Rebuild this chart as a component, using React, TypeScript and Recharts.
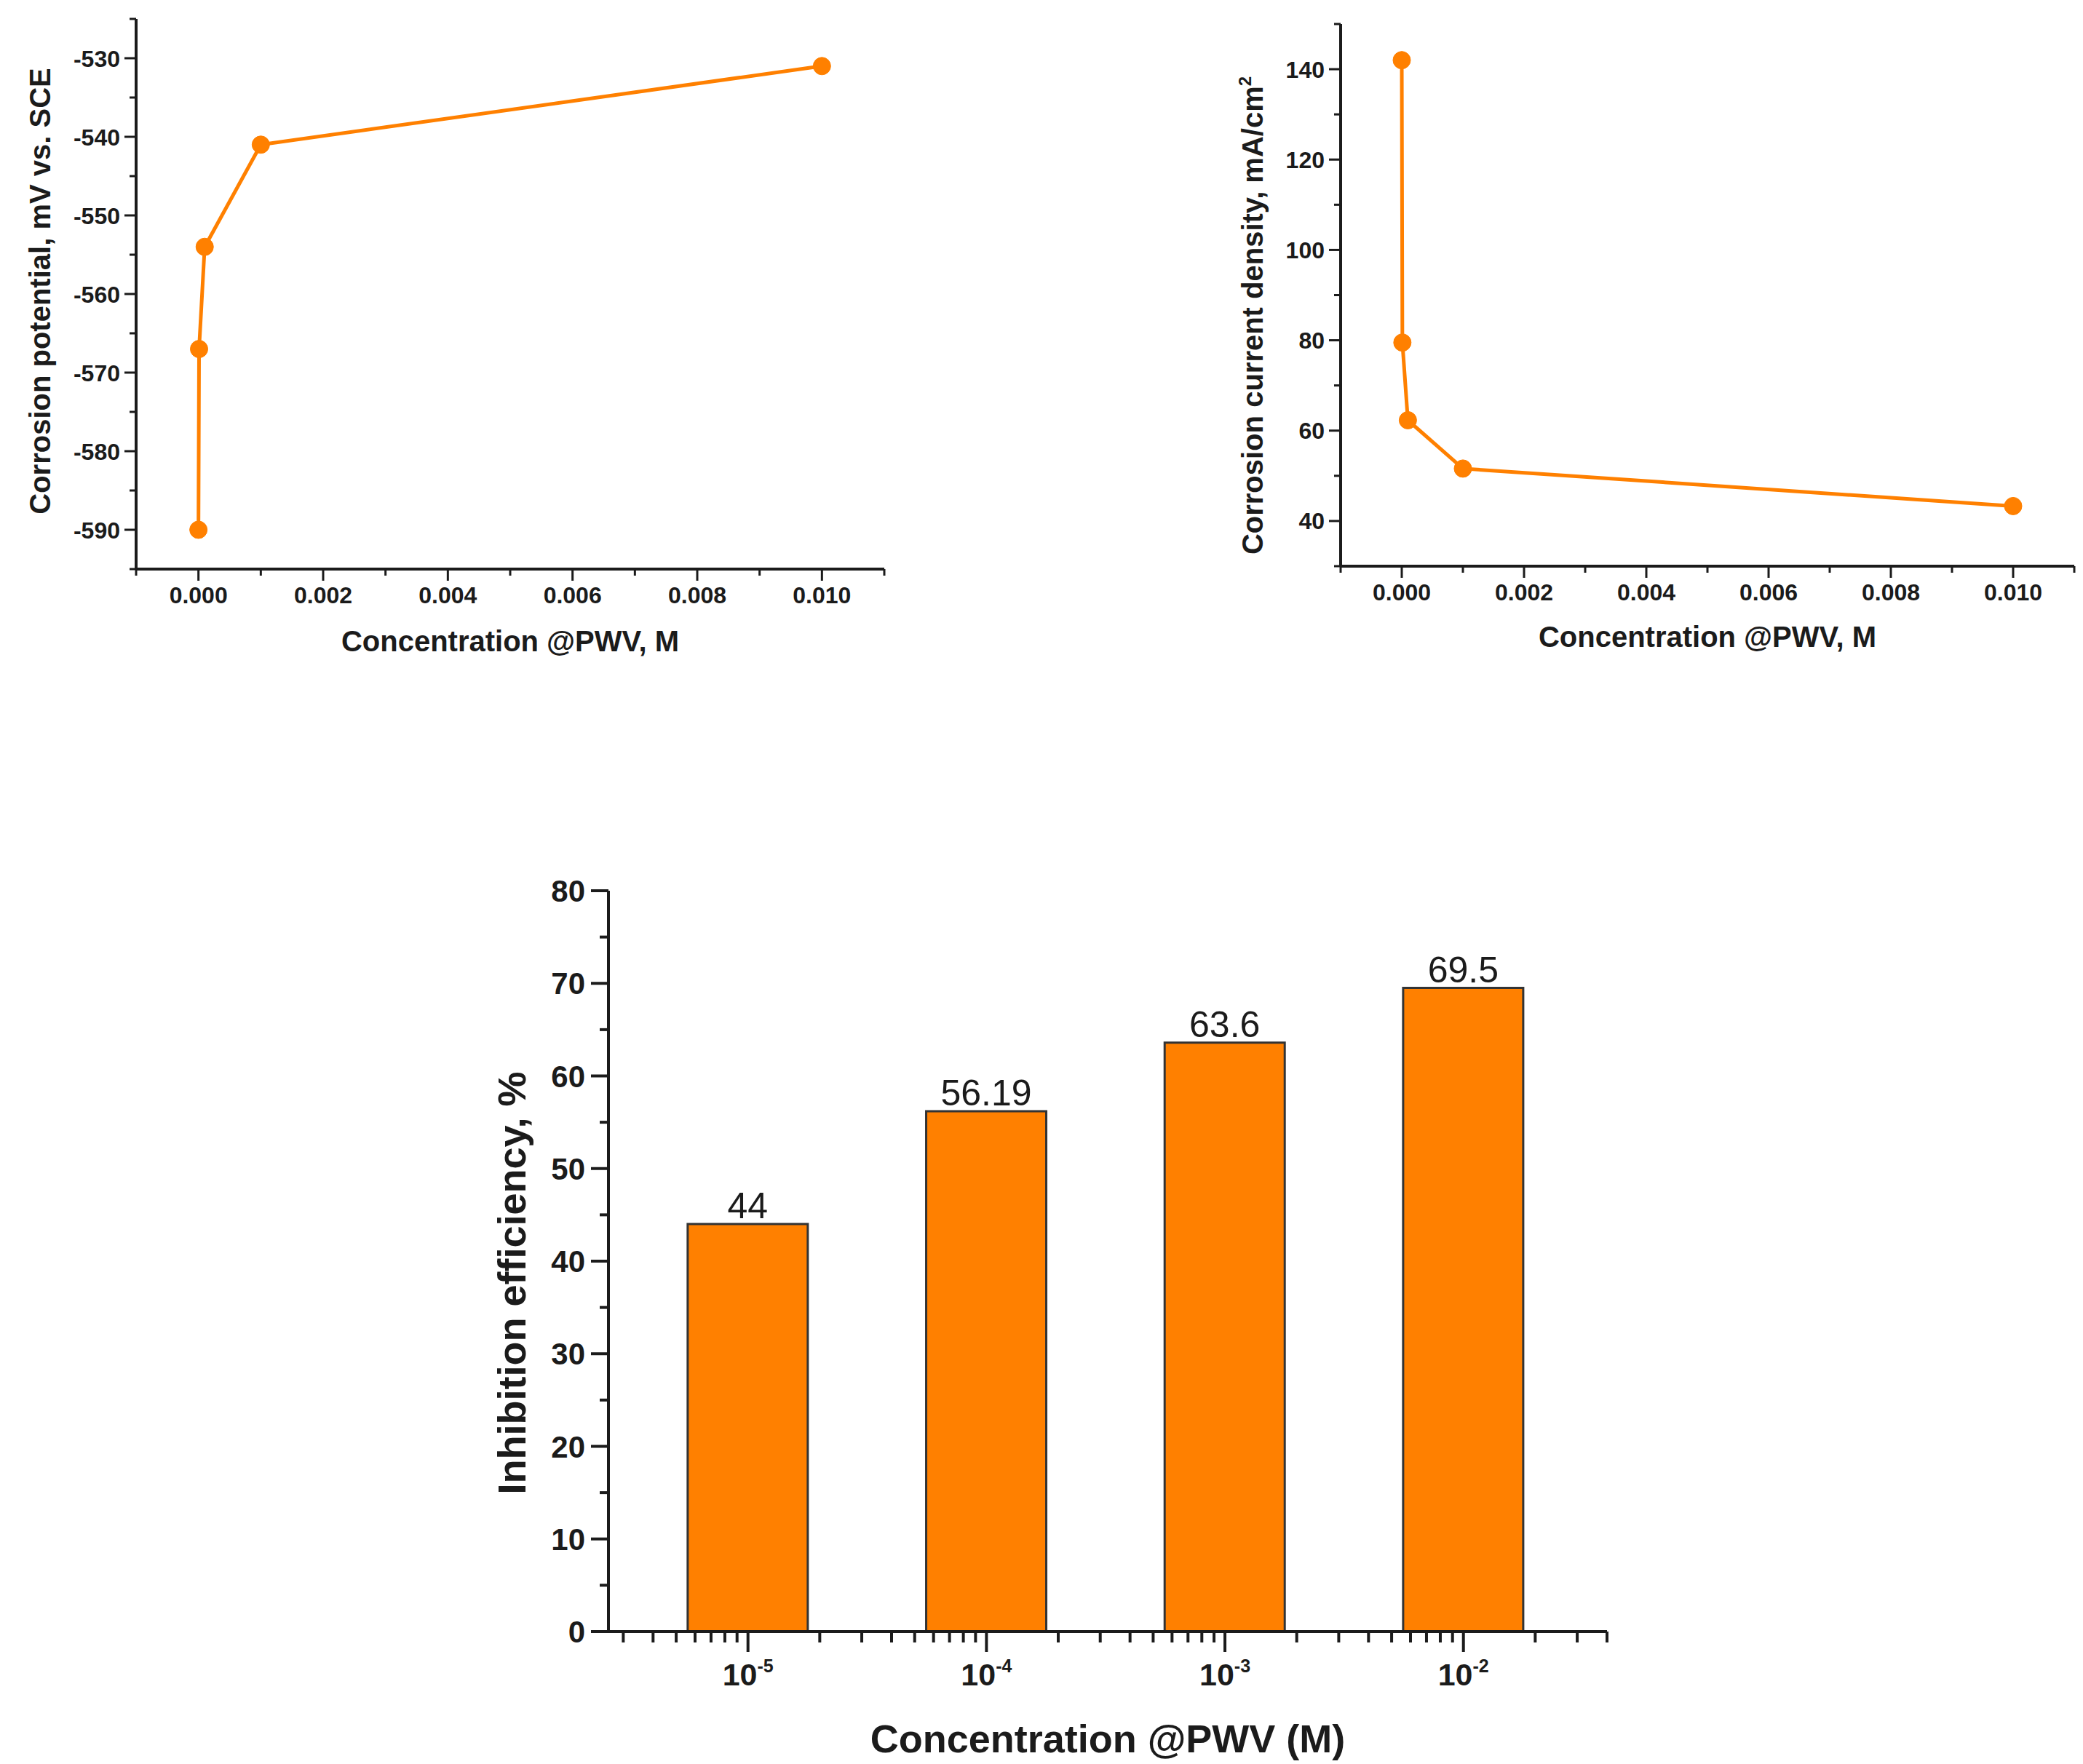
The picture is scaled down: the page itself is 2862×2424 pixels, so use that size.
import React from 'react';
import { LineChart, Line, BarChart, Bar, XAxis, YAxis, LabelList } from 'recharts';

// top-left panel: corrosion potential vs concentration
const concentration = [0, 0.00001, 0.0001, 0.001, 0.01];
const potential = [-590, -567, -554, -541, -531];
// top-right panel: corrosion current density vs concentration
const currentDensity = [142, 79.5, 62.3, 51.6, 43.3];

// bottom panel: inhibition efficiency bars
const barConcentration = [0.00001, 0.0001, 0.001, 0.01];
const efficiency = [44, 56.19, 63.6, 69.5];

// tick labels
const concTicks = [-0.001, 0, 0.001, 0.002, 0.003, 0.004, 0.005, 0.006, 0.007, 0.008, 0.009, 0.01, 0.011];
const concLabels = [0, 0.002, 0.004, 0.006, 0.008, 0.01];
const potentialTicks = [-595, -590, -585, -580, -575, -570, -565, -560, -555, -550, -545, -540, -535, -530, -525];
const potentialLabels = [-590, -580, -570, -560, -550, -540, -530];
const densityTicks = [30, 40, 50, 60, 70, 80, 90, 100, 110, 120, 130, 140, 150];
const densityLabels = [40, 60, 80, 100, 120, 140];
const effTicks = [0, 5, 10, 15, 20, 25, 30, 35, 40, 45, 50, 55, 60, 65, 70, 75, 80];
const effLabels = [0, 10, 20, 30, 40, 50, 60, 70, 80];
const logTicks = [
  3e-6, 4e-6, 5e-6, 6e-6, 7e-6, 8e-6, 9e-6,
  1e-5, 2e-5, 3e-5, 4e-5, 5e-5, 6e-5, 7e-5, 8e-5, 9e-5,
  1e-4, 2e-4, 3e-4, 4e-4, 5e-4, 6e-4, 7e-4, 8e-4, 9e-4,
  1e-3, 2e-3, 3e-3, 4e-3, 5e-3, 6e-3, 7e-3, 8e-3, 9e-3,
  1e-2, 2e-2, 3e-2, 4e-2,
];
const logLabels = ['-5', '-4', '-3', '-2'];

const potentialData = concentration.map((c, i) => ({ conc: c, value: potential[i] }));
const densityData = concentration.map((c, i) => ({ conc: c, value: currentDensity[i] }));
const effData = barConcentration.map((c, i) => ({ conc: c, eff: efficiency[i] }));

const INK = '#1b1b1b';
const ORANGE = '#FF8000';
const FONT = '"Liberation Sans", Arial, sans-serif';

const near = (a: number, list: number[]) => list.some((b) => Math.abs(a - b) < 1e-9);

const bottomTick = (labels: number[], fmt: (v: number) => string, o: any) => (p: any) => {
  const v = p.payload.value;
  const major = near(v, labels);
  return (
    <g>
      <line x1={p.x} x2={p.x} y1={p.y} y2={p.y + (major ? o.major : o.minor)} stroke={INK} strokeWidth={o.w} />
      {major && (
        <text x={p.x} y={p.y + o.dy} textAnchor="middle" fontSize={o.size} fontWeight="bold" fill={INK} fontFamily={FONT}>
          {fmt(v)}
        </text>
      )}
    </g>
  );
};

const leftTick = (labels: number[], o: any) => (p: any) => {
  const v = p.payload.value;
  const major = near(v, labels);
  return (
    <g>
      <line x1={p.x} x2={p.x - (major ? o.major : o.minor)} y1={p.y} y2={p.y} stroke={INK} strokeWidth={o.w} />
      {major && (
        <text x={p.x - o.dx} y={p.y} dy="0.36em" textAnchor="end" fontSize={o.size} fontWeight="bold" fill={INK} fontFamily={FONT}>
          {v}
        </text>
      )}
    </g>
  );
};

const logTick = (p: any) => {
  const v = p.payload.value;
  const e = Math.log10(v);
  const major = Math.abs(e - Math.round(e)) < 1e-9;
  const label = logLabels.find((l) => Number(l) === Math.round(e));
  return (
    <g>
      <line x1={p.x} x2={p.x} y1={p.y} y2={p.y + (major ? 28 : 15)} stroke={INK} strokeWidth={4} />
      {major && label && (
        <text x={p.x} y={p.y + 74} textAnchor="middle" fontSize={43} fontWeight="bold" fill={INK} fontFamily={FONT}>
          10
          <tspan dy={-18} fontSize={25}>{label}</tspan>
        </text>
      )}
    </g>
  );
};

const xTitle = (text: string, dy: number, size: number) => ({
  content: ({ viewBox }: any) => (
    <text x={viewBox.x + viewBox.width / 2} y={viewBox.y + dy} textAnchor="middle" fontSize={size} fontWeight="bold" fill={INK} fontFamily={FONT}>
      {text}
    </text>
  ),
});

const yTitle = (text: string, dx: number, dy: number, size: number, sup?: string) => ({
  content: ({ viewBox }: any) => {
    const cx = viewBox.x + dx;
    const cy = viewBox.y + viewBox.height / 2 + dy;
    return (
      <text
        x={cx}
        y={cy}
        dy="0.36em"
        transform={`rotate(-90 ${cx} ${cy})`}
        textAnchor="middle"
        fontSize={size}
        fontWeight="bold"
        fill={INK}
        fontFamily={FONT}
      >
        {text}
        {sup && <tspan dy={-16} fontSize={size * 0.6}>{sup}</tspan>}
      </text>
    );
  },
});

const fixed3 = (v: number) => v.toFixed(3);
const smallTicks = { major: 16, minor: 9, w: 3, size: 32, dy: 47, dx: 22 };

export default function App() {
  return (
    <div style={{ position: 'relative', width: 2862, height: 2424, background: '#fff', fontFamily: FONT }}>
      <style>{'body{margin:0}'}</style>

      <div style={{ position: 'absolute', left: 0, top: 0 }}>
        <LineChart width={1260} height={950} data={potentialData} margin={{ top: 26, right: 45, left: 0, bottom: 0 }}>
          <XAxis
            dataKey="conc"
            type="number"
            domain={[-0.001, 0.011]}
            allowDataOverflow
            ticks={concTicks}
            interval={0}
            height={168}
            tickSize={0}
            tickMargin={0}
            tickLine={false}
            axisLine={{ stroke: INK, strokeWidth: 4 }}
            tick={bottomTick(concLabels, fixed3, smallTicks)}
            label={xTitle('Concentration @PWV, M', 113, 40)}
          />
          <YAxis
            type="number"
            domain={[-595, -525]}
            allowDataOverflow
            ticks={potentialTicks}
            interval={0}
            width={187}
            tickSize={0}
            tickMargin={0}
            tickLine={false}
            axisLine={{ stroke: INK, strokeWidth: 4 }}
            tick={leftTick(potentialLabels, smallTicks)}
            label={yTitle('Corrosion potential, mV vs. SCE', 55, -4, 40)}
          />
          <Line
            type="linear"
            dataKey="value"
            stroke={ORANGE}
            strokeWidth={5}
            dot={{ r: 12, fill: ORANGE, stroke: ORANGE, strokeWidth: 1 }}
            isAnimationActive={false}
          />
        </LineChart>
      </div>

      <div style={{ position: 'absolute', left: 1650, top: 0 }}>
        <LineChart width={1212} height={950} data={densityData} margin={{ top: 33, right: 12, left: 0, bottom: 0 }}>
          <XAxis
            dataKey="conc"
            type="number"
            domain={[-0.001, 0.011]}
            allowDataOverflow
            ticks={concTicks}
            interval={0}
            height={172}
            tickSize={0}
            tickMargin={0}
            tickLine={false}
            axisLine={{ stroke: INK, strokeWidth: 4 }}
            tick={bottomTick(concLabels, fixed3, smallTicks)}
            label={xTitle('Concentration @PWV, M', 111, 40)}
          />
          <YAxis
            type="number"
            domain={[30, 150]}
            allowDataOverflow
            ticks={densityTicks}
            interval={0}
            width={192}
            tickSize={0}
            tickMargin={0}
            tickLine={false}
            axisLine={{ stroke: INK, strokeWidth: 4 }}
            tick={leftTick(densityLabels, smallTicks)}
            label={yTitle('Corrosion current density, mA/cm', 71, 28, 40, '2')}
          />
          <Line
            type="linear"
            dataKey="value"
            stroke={ORANGE}
            strokeWidth={5}
            dot={{ r: 12, fill: ORANGE, stroke: ORANGE, strokeWidth: 1 }}
            isAnimationActive={false}
          />
        </LineChart>
      </div>

      <div style={{ position: 'absolute', left: 640, top: 1150 }}>
        <BarChart width={1660} height={1274} data={effData} margin={{ top: 74, right: 92, left: 0, bottom: 0 }}>
          <XAxis
            dataKey="conc"
            type="number"
            scale="log"
            domain={[2.6e-6, 0.04]}
            allowDataOverflow
            ticks={logTicks}
            interval={0}
            height={182}
            tickSize={0}
            tickMargin={0}
            tickLine={false}
            axisLine={{ stroke: INK, strokeWidth: 4 }}
            tick={logTick}
            label={xTitle('Concentration @PWV (M)', 166, 54)}
          />
          <YAxis
            type="number"
            domain={[0, 80]}
            allowDataOverflow
            ticks={effTicks}
            interval={0}
            width={196}
            tickSize={0}
            tickMargin={0}
            tickLine={false}
            axisLine={{ stroke: INK, strokeWidth: 4 }}
            tick={leftTick(effLabels, { major: 24, minor: 12, w: 4, size: 42, dx: 32 })}
            label={yTitle('Inhibition efficiency, %', 63, 30, 54)}
          />
          <Bar dataKey="eff" barSize={165} fill={ORANGE} stroke="#333" strokeWidth={3} isAnimationActive={false}>
            <LabelList dataKey="eff" position="top" offset={8} fontSize={50} fill={INK} fontFamily={FONT} />
          </Bar>
        </BarChart>
      </div>
    </div>
  );
}
